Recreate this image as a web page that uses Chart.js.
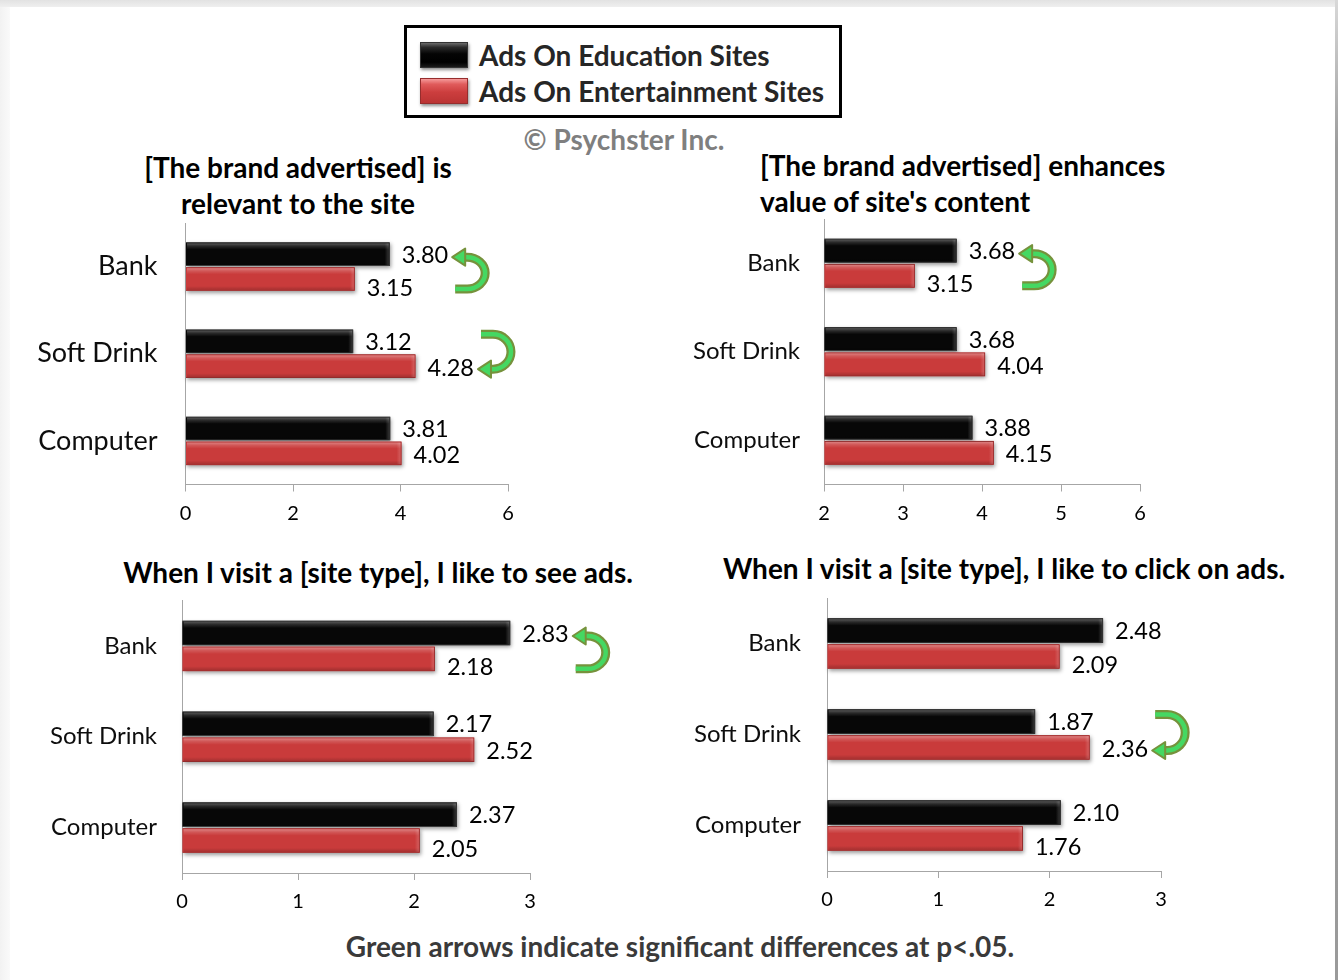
<!DOCTYPE html>
<html>
<head>
<meta charset="utf-8">
<script src="https://cdn.jsdelivr.net/npm/chart.js@4.4.1/dist/chart.umd.min.js"></script>
<style>
  html, body { margin: 0; padding: 0; background: #fff; }
  #page { position: relative; width: 1338px; height: 980px; background: #fff; overflow: hidden; font-family: Lato, "Noto Sans", sans-serif; }
  .edge-top { position: absolute; left: 0; top: 0; width: 1338px; height: 7px; background: linear-gradient(to bottom, #e2e2e2, #efefef); }
  .edge-left { position: absolute; left: 0; top: 7px; width: 10px; height: 973px; background: linear-gradient(to right, #f2f2f2, #fafafa); }
  .edge-right { position: absolute; left: 1335px; top: 0; width: 3px; height: 980px; background: linear-gradient(to bottom, #d8d8d8, #9c9c9c 15%, #9a9a9a); }
  .txt { position: absolute; white-space: nowrap; transform: translate(-50%, -50%); line-height: 1; }
  .txt-left { position: absolute; white-space: nowrap; transform: translate(0, -50%); line-height: 1; }
  .bold { font-weight: 700; }
  canvas { position: absolute; }
  #legend { position: absolute; left: 404px; top: 25px; width: 432px; height: 87px; border: 3px solid #000; background: #fff; }
  .swatch { position: absolute; left: 13px; width: 46px; height: 24px; box-shadow: 1px 2px 3px rgba(0,0,0,0.45); }
  .sw-edu { top: 14px; background: linear-gradient(to bottom, #6a6a6a 0%, #2a2a2a 18%, #050505 45%, #000 80%, #1a1a1a 100%); border: 1px solid #333; }
  .sw-ent { top: 50px; background: linear-gradient(to bottom, #f59a9a 0%, #e05b5b 22%, #cc3e3e 55%, #bb3434 100%); border: 1px solid #962d2d; }
  .leg-label { position: absolute; left: 72px; font-weight: 700; font-size: 28px; color: #262626; white-space: nowrap; transform: translate(0, -50%); line-height: 1; }
</style>
</head>
<body>
<div id="page">
  <div class="edge-top"></div>
  <div class="edge-left"></div>
  <div class="edge-right"></div>

  <div id="legend">
    <div class="swatch sw-edu"></div>
    <div class="leg-label" id="leg0" style="top:27px"></div>
    <div class="swatch sw-ent"></div>
    <div class="leg-label" id="leg1" style="top:63px"></div>
  </div>
  <div class="txt bold" style="left:624px; top:139px; font-size:28px; color:#7f7f7f;">© Psychster Inc.</div>

  <div class="txt bold" style="left:298px; top:167px; font-size:28px; color:#000;">[The brand advertised] is</div>
  <div class="txt bold" style="left:298px; top:203px; font-size:28px; color:#000;">relevant to the site</div>

  <div class="txt-left bold" style="left:760px; top:165px; font-size:28px; color:#000;">[The brand advertised] enhances</div>
  <div class="txt-left bold" style="left:760px; top:201px; font-size:28px; color:#000;">value of site's content</div>

  <div class="txt bold" style="left:378px; top:572px; font-size:28px; color:#000;">When I visit a [site type], I like to see ads.</div>
  <div class="txt bold" style="left:1004px; top:568px; font-size:28px; color:#000;">When I visit a [site type], I like to click on ads.</div>

  <div class="txt bold" style="left:680px; top:946px; font-size:28px; color:#3a3a3a;">Green arrows indicate significant differences at p&lt;.05.</div>

  <canvas id="c1"></canvas>
  <canvas id="c2"></canvas>
  <canvas id="c3"></canvas>
  <canvas id="c4"></canvas>
</div>

<script>
// ---- data ----
const categories = ['Bank', 'Soft Drink', 'Computer'];
const seriesNames = ['Ads On Education Sites', 'Ads On Entertainment Sites'];

const relevantEdu = [3.80, 3.12, 3.81];
const relevantEnt = [3.15, 4.28, 4.02];
const relevantSig = [true, true, false];
const relevantTicks = [0, 2, 4, 6];

const enhancesEdu = [3.68, 3.68, 3.88];
const enhancesEnt = [3.15, 4.04, 4.15];
const enhancesSig = [true, false, false];
const enhancesTicks = [2, 3, 4, 5, 6];

const seeAdsEdu = [2.83, 2.17, 2.37];
const seeAdsEnt = [2.18, 2.52, 2.05];
const seeAdsSig = [true, false, false];
const seeAdsTicks = [0, 1, 2, 3];

const clickAdsEdu = [2.48, 1.87, 2.10];
const clickAdsEnt = [2.09, 2.36, 1.76];
const clickAdsSig = [false, true, false];
const clickAdsTicks = [0, 1, 2, 3];

// ---- styling ----
const FONT = 'Lato';
const EDU_COLOR = '#070707';
const ENT_COLOR = '#c93b3b';
const AXIS_COLOR = '#a6a6a6';
const ARROW_EDGE = '#76923c';
const ARROW_FILL = '#45d862';

document.getElementById('leg0').textContent = seriesNames[0];
document.getElementById('leg1').textContent = seriesNames[1];

// Soft drop shadow behind each bar
const barShadow = {
  id: 'barShadow',
  beforeDatasetsDraw(chart) {
    const ctx = chart.ctx;
    ctx.save();
    ctx.shadowColor = 'rgba(0,0,0,0.4)';
    ctx.shadowBlur = 4;
    ctx.shadowOffsetX = 1;
    ctx.shadowOffsetY = 2;
    chart.data.datasets.forEach((ds, di) => {
      chart.getDatasetMeta(di).data.forEach(bar => {
        const p = bar.getProps(['x', 'y', 'base', 'height'], true);
        ctx.fillStyle = ds.backgroundColor;
        ctx.fillRect(Math.min(p.base, p.x), p.y - p.height / 2, Math.abs(p.x - p.base), p.height);
      });
    });
    ctx.restore();
  }
};

// Curved "U-turn" arrow pointing left at the larger value
function drawTurnArrow(ctx, tipX, yTop, yBot, headAtTop) {
  const cx = tipX + 15, rx = 18;
  const cy = (yTop + yBot) / 2, ry = (yBot - yTop) / 2;
  const headY = headAtTop ? yTop : yBot;
  const tailY = headAtTop ? yBot : yTop;
  ctx.save();
  ctx.beginPath();
  ctx.moveTo(tipX + 3, tailY);
  ctx.lineTo(cx, tailY);
  if (headAtTop) ctx.ellipse(cx, cy, rx, ry, 0, Math.PI / 2, -Math.PI / 2, true);
  else ctx.ellipse(cx, cy, rx, ry, 0, -Math.PI / 2, Math.PI / 2, false);
  ctx.lineTo(tipX + 11, headY);
  ctx.lineCap = 'butt';
  ctx.lineJoin = 'round';
  ctx.strokeStyle = ARROW_EDGE;
  ctx.lineWidth = 9;
  ctx.stroke();
  ctx.strokeStyle = ARROW_FILL;
  ctx.lineWidth = 4.5;
  ctx.stroke();
  ctx.beginPath();
  ctx.moveTo(tipX, headY);
  ctx.lineTo(tipX + 13, headY - 8.5);
  ctx.lineTo(tipX + 13, headY + 8.5);
  ctx.closePath();
  ctx.fillStyle = ARROW_FILL;
  ctx.fill();
  ctx.lineWidth = 2;
  ctx.strokeStyle = ARROW_EDGE;
  ctx.stroke();
  ctx.restore();
}

// Bevel highlight over each bar, value labels, significance arrows
const barDecor = {
  id: 'barDecor',
  afterDatasetsDraw(chart) {
    const ctx = chart.ctx;
    const metas = [chart.getDatasetMeta(0), chart.getDatasetMeta(1)];
    metas.forEach((meta, di) => {
      meta.data.forEach(bar => {
        const p = bar.getProps(['x', 'y', 'base', 'height'], true);
        const top = p.y - p.height / 2, left = Math.min(p.base, p.x), w = Math.abs(p.x - p.base);
        const g = ctx.createLinearGradient(0, top, 0, top + p.height);
        const hi = di === 0 ? 0.38 : 0.42;
        g.addColorStop(0, 'rgba(255,255,255,' + hi + ')');
        g.addColorStop(0.16, 'rgba(255,255,255,' + (hi * 0.35) + ')');
        g.addColorStop(0.3, 'rgba(255,255,255,0)');
        g.addColorStop(0.8, 'rgba(0,0,0,0)');
        g.addColorStop(1, 'rgba(0,0,0,0.22)');
        ctx.fillStyle = g;
        ctx.fillRect(left + 1, top + 1, w - 2, p.height - 2);
        const g2 = ctx.createLinearGradient(left + w - 5, 0, left + w, 0);
        g2.addColorStop(0, 'rgba(255,255,255,0)');
        g2.addColorStop(1, 'rgba(255,255,255,0.22)');
        ctx.fillStyle = g2;
        ctx.fillRect(left + w - 5, top + 1, 4, p.height - 2);
      });
    });
    const opts = chart.options.plugins.barDecor;
    const edu = chart.data.datasets[0].data, ent = chart.data.datasets[1].data;
    ctx.save();
    ctx.font = '23.5px ' + FONT;
    ctx.fillStyle = '#000';
    ctx.textBaseline = 'middle';
    ctx.textAlign = 'left';
    categories.forEach((c, i) => {
      const b0 = metas[0].data[i].getProps(['x', 'y'], true);
      const b1 = metas[1].data[i].getProps(['x', 'y'], true);
      const t0 = edu[i].toFixed(2), t1 = ent[i].toFixed(2);
      const y0 = b0.y + 1;
      const y1 = b1.y + (ent[i] < edu[i] ? 9 : 2);
      ctx.fillText(t0, b0.x + 12, y0);
      ctx.fillText(t1, b1.x + 12, y1);
      if (opts.sig[i]) {
        const end = Math.max(b0.x + 12 + ctx.measureText(t0).width, b1.x + 12 + ctx.measureText(t1).width);
        const headAtTop = edu[i] > ent[i];
        const yTop = headAtTop ? y0 + 2 : y0 - 8;
        const yBot = headAtTop ? y1 + 1 : y1 + 1;
        drawTurnArrow(ctx, end + 4, yTop, yBot, headAtTop);
      }
    });
    ctx.restore();
  }
};

// Builds one panel; the box gives the canvas rectangle and the plot area on the page
function panel(id, box, edu, ent, sig, ticks, catFont, catPad) {
  const cv = document.getElementById(id);
  cv.style.left = box.cx + 'px';
  cv.style.top = box.cy + 'px';
  cv.width = box.w; cv.height = box.h;
  cv.style.width = box.w + 'px'; cv.style.height = box.h + 'px';
  const yW = box.L - box.cx;
  const xH = box.cy + box.h - box.B;
  const common = { categoryPercentage: 0.57, barPercentage: 0.95, borderWidth: 1, base: ticks[0] };
  return new Chart(cv, {
    type: 'bar',
    data: {
      labels: categories,
      datasets: [
        Object.assign({ label: seriesNames[0], data: edu, backgroundColor: EDU_COLOR, borderColor: '#3c3c3c' }, common),
        Object.assign({ label: seriesNames[1], data: ent, backgroundColor: ENT_COLOR, borderColor: '#922c2c' }, common)
      ]
    },
    options: {
      indexAxis: 'y',
      responsive: false,
      animation: false,
      devicePixelRatio: 1,
      layout: { padding: { top: box.T - box.cy, right: box.cx + box.w - box.R, left: 0, bottom: 0 } },
      plugins: {
        legend: { display: false },
        tooltip: { enabled: false },
        barDecor: { sig: sig }
      },
      scales: {
        x: {
          min: ticks[0], max: ticks[ticks.length - 1],
          ticks: { stepSize: ticks[1] - ticks[0], color: '#000', font: { family: FONT, size: 20 }, padding: 10 },
          grid: { display: true, drawOnChartArea: false, drawTicks: true, tickLength: 7, color: AXIS_COLOR, lineWidth: 1 },
          border: { display: true, color: AXIS_COLOR, width: 1 },
          afterFit(s) { s.height = xH; s.paddingLeft = 0; s.paddingRight = 0; }
        },
        y: {
          ticks: { color: '#0d0d0d', font: { family: FONT, size: catFont }, padding: catPad },
          grid: { display: false, drawTicks: false },
          border: { display: true, color: AXIS_COLOR, width: 1 },
          afterFit(s) { s.width = yW; s.paddingTop = 0; s.paddingBottom = 0; }
        }
      }
    },
    plugins: [barShadow, barDecor]
  });
}

function build() {
  panel('c1', { cx: 0, cy: 213, w: 600, h: 320, L: 185.5, T: 223, R: 508, B: 484.5 },
        relevantEdu, relevantEnt, relevantSig, relevantTicks, 27, 28);
  panel('c2', { cx: 660, cy: 209, w: 560, h: 320, L: 824, T: 219, R: 1140, B: 484.5 },
        enhancesEdu, enhancesEnt, enhancesSig, enhancesTicks, 24, 24);
  panel('c3', { cx: 0, cy: 590, w: 650, h: 330, L: 182, T: 600.5, R: 530, B: 873 },
        seeAdsEdu, seeAdsEnt, seeAdsSig, seeAdsTicks, 24, 25);
  panel('c4', { cx: 660, cy: 588, w: 600, h: 330, L: 827, T: 598, R: 1161, B: 871 },
        clickAdsEdu, clickAdsEnt, clickAdsSig, clickAdsTicks, 24, 26);
}

if (document.fonts && document.fonts.load) {
  Promise.all([
    document.fonts.load('22px Lato'),
    document.fonts.load('700 28px Lato')
  ]).then(build, build);
} else {
  build();
}
</script>
</body>
</html>
